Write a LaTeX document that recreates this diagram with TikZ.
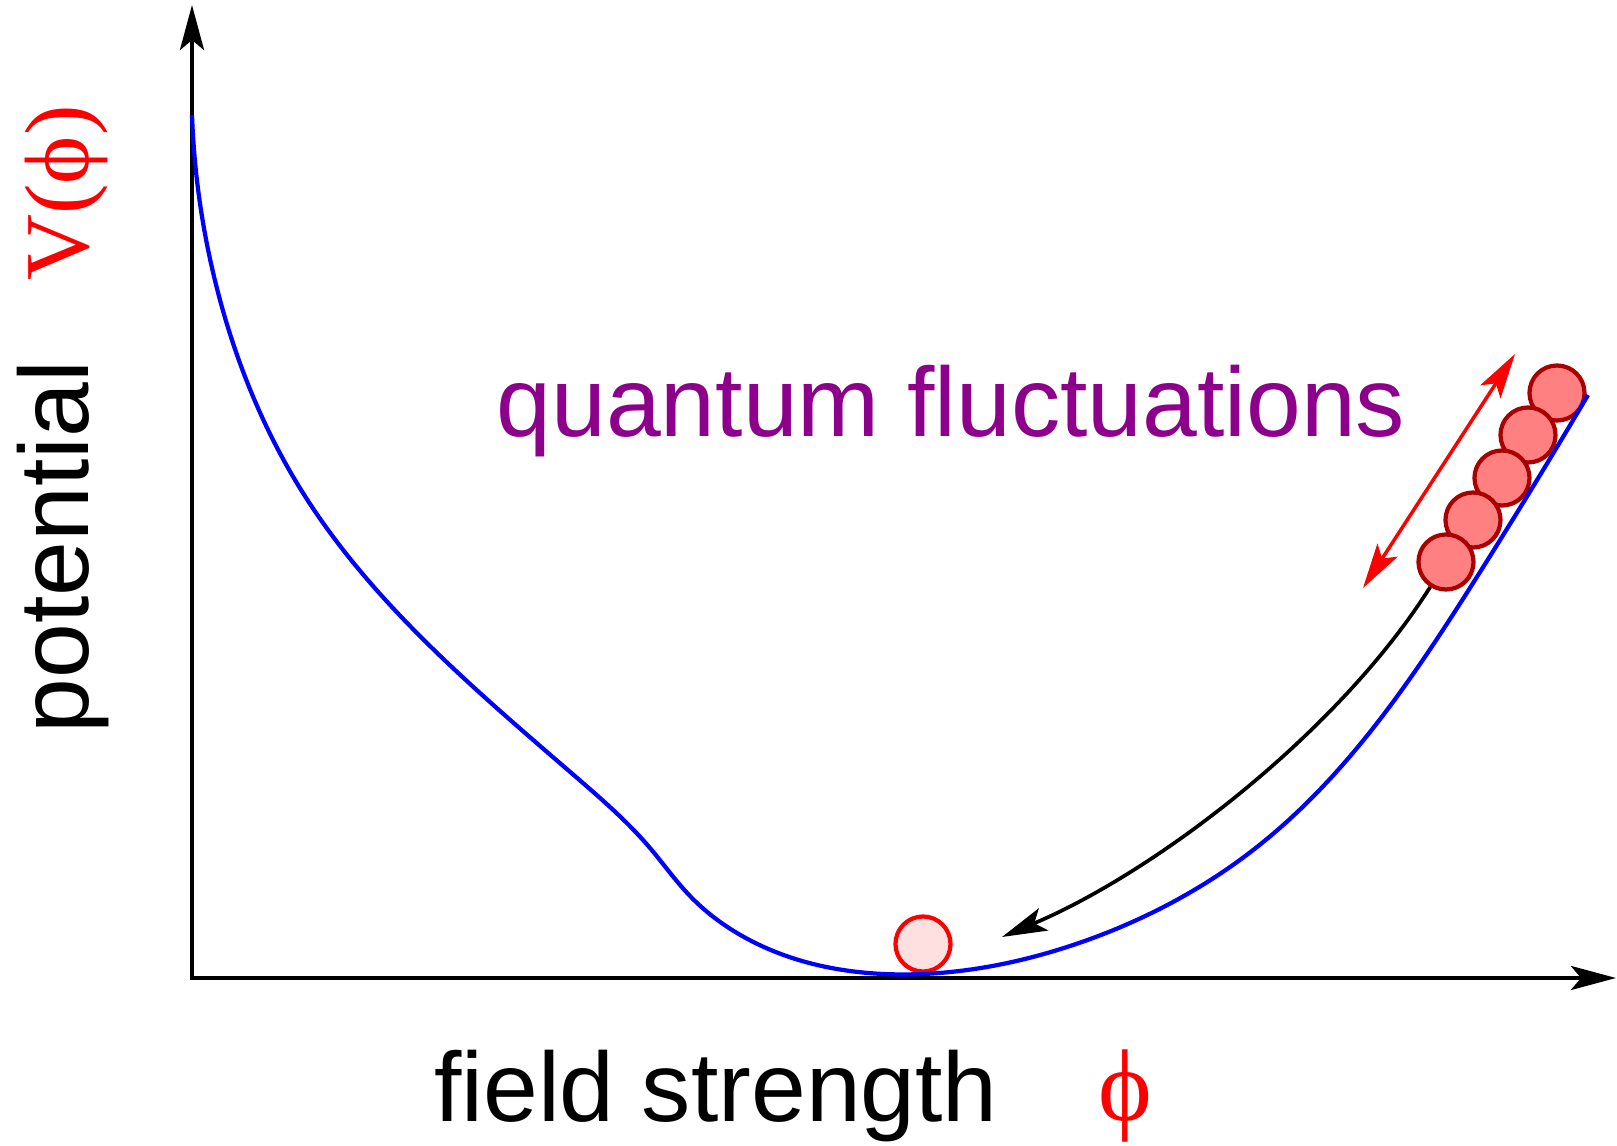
\documentclass[tikz,border=0pt]{standalone}
\usepackage{fontspec}
\setmainfont{Liberation Sans}
\newfontfamily\greekserif{Liberation Serif}
\usetikzlibrary{arrows.meta,positioning,hobby}
\definecolor{ballfill}{RGB}{255,128,128}
\definecolor{balledge}{RGB}{170,0,0}
\definecolor{restfill}{RGB}{255,224,224}
\definecolor{fluctpurple}{RGB}{140,0,140}

\begin{document}
\begin{tikzpicture}[
    x=0.01cm, y=-0.01cm,
    >={Stealth[length=4.5mm, width=2.4mm, inset=1mm]},
    every node/.style={font=\fontsize{28}{34}\selectfont},
    axis/.style={<->, line width=1.2pt},
    arrow/.style={->, line width=1.05pt},
    ball/.style={circle, draw=balledge, fill=ballfill, line width=1.2pt, minimum size=5.5mm, inner sep=0pt},
    rest/.style={circle, draw=red, fill=restfill, line width=1.2pt, minimum size=5.5mm, inner sep=0pt},
    potential/.style={blue, line width=1.2pt},
    symbol/.style={red, font=\greekserif\fontsize{29}{35}\selectfont}
]
\useasboundingbox (0,0) rectangle (1617,1146);

% Axes
\coordinate (origin) at (192,978);
\coordinate (ytip) at (192,5);
\coordinate (xtip) at (1616,978);
\draw[axis] (ytip) -- (origin) -- (xtip);

% Axis labels
\node[anchor=base, rotate=90] (vlabel) at (88,547) {potential};
\node[symbol, font=\greekserif\fontsize{26}{32}\selectfont, anchor=base, rotate=90] (vsym) at (88,193) {V(\symbol{"03D5})};
\node[anchor=base] (xlabel) at (716,1122) {field strength};
\node[symbol, anchor=base] (xsym) at (1125,1120) {\symbol{"03D5}};

% Field at rest in the minimum
\node[rest] (restball) at (923,944) {};

% Field positions on the slope (top first)
\foreach \i/\xpos/\ypos in {1/1557/393, 2/1528/435, 3/1502/478, 4/1473/520, 5/1446/562} {
    \node[ball] (b\i) at (\xpos,\ypos) {};
}

% Rolling down
\coordinate (land) at (1002,937);
\draw[arrow] (b5) .. controls (1340,730) and (1160,870) .. (land);

% Fluctuations
\coordinate (fdown) at (1363,588);
\coordinate (fup) at (1515,354);
\draw[<->, red, line width=1pt] (fdown) -- (fup);
\node[fluctpurple, anchor=base] (fluct) at (951,437) {quantum fluctuations};

% Potential curve
\draw[potential] (192,115) to[curve through={(220,300) .. (303,493) .. (469,683)
    .. (576,777) .. (650,848) .. (690,896) .. (737,933) .. (923,974)
    .. (1079,943) .. (1257,847) .. (1475,580)}] (1588,395);

\end{tikzpicture}
\end{document}
